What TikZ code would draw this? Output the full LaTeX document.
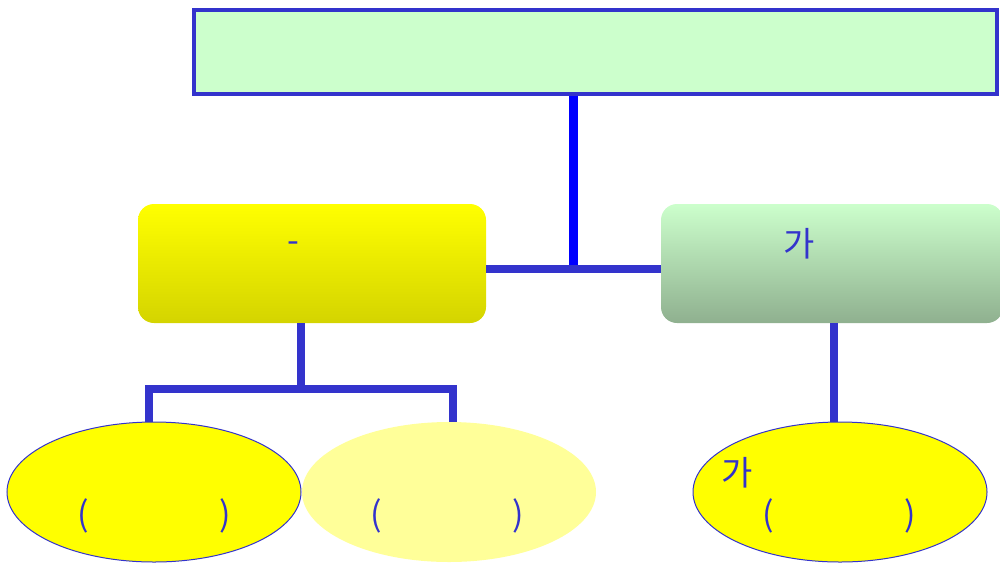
\documentclass[tikz,border=0pt]{standalone}
\usepackage{fontspec}
\setmainfont{Noto Sans CJK KR}
\usetikzlibrary{shapes.geometric}
\definecolor{ink}{HTML}{3333CC}
\definecolor{pureblue}{HTML}{0000FF}
\definecolor{mint}{HTML}{CCFFCC}
\definecolor{sage}{HTML}{8FB08F}
\definecolor{lemon}{HTML}{FFFF00}
\definecolor{olive}{HTML}{D4D400}
\definecolor{paleyellow}{HTML}{FFFF99}
\tikzset{
  lbl/.style={text=ink, font=\fontsize{34}{40}\selectfont, inner sep=0},
  wire/.style={draw=ink, line width=8pt},
  panel/.style={rounded corners=16pt, inner sep=0, minimum height=119pt},
  oval/.style={ellipse, inner sep=0, minimum width=294pt, minimum height=140pt},
}
\begin{document}
\begin{tikzpicture}[x=1pt,y=-1pt]
\useasboundingbox (0,0) rectangle (1000,565);

% header box
\node[draw=ink, line width=3.5pt, fill=mint, minimum width=803pt, minimum height=84pt, inner sep=0] (title) at (595.5,52) {};

% second level panels
\node[panel, minimum width=348pt, top color=lemon, bottom color=olive] (left) at (312,263.5) {};
\node[panel, minimum width=342pt, top color=mint, bottom color=sage] (right) at (832,263.5) {};
\node[lbl] (dash) at (293,247) {-};
\node[lbl] (ga) at (799,244) {가};

% third level ovals
\node[oval, draw=ink, line width=1pt, fill=lemon] (o1) at (154,492) {};
\node[oval, fill=paleyellow] (o2) at (449,492) {};
\node[oval, draw=ink, line width=1pt, fill=lemon] (o3) at (840,492) {};
\node[lbl] (p1) at (154,516) {(\hspace{130pt})};
\node[lbl] (p2) at (447,516) {(\hspace{130pt})};
\node[lbl] (p3) at (839,516) {(\hspace{130pt})};
\node[lbl] (ga2) at (737,473) {가};

% connectors
\coordinate (hub) at (573,269);
\coordinate (bl) at (149,389);
\coordinate (br) at (453,389);
\draw[draw=pureblue, line width=9pt] (title.south -| hub) -- (hub);
\draw[wire] (left.east |- hub) -- (right.west |- hub);
\draw[wire] (301,323) -- (301,389);
\draw[wire] ([xshift=-4pt]bl) -- ([xshift=4pt]br);
\draw[wire] (bl) -- (bl |- o1.north);
\draw[wire] (br) -- (br |- o2.north);
\draw[wire] (834,323) -- (834,422);
\end{tikzpicture}
\end{document}
